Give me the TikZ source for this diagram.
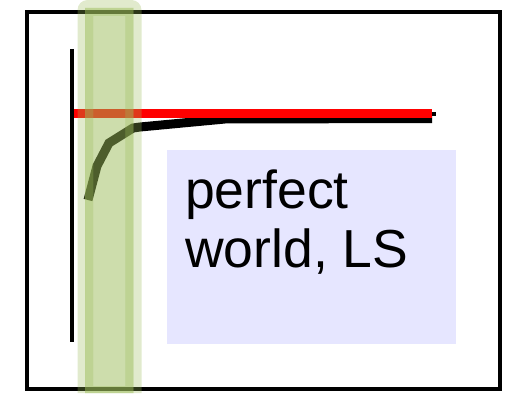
\documentclass[tikz,border=0pt]{standalone}
\usepackage{fontspec}
\newfontfamily\lblfont{Liberation Sans}
\definecolor{olivegr}{RGB}{155,187,89}
\definecolor{lav}{RGB}{230,230,255}
\begin{document}
\begin{tikzpicture}[x=1pt,y=-1pt,
  txt/.style={anchor=base west, inner sep=0pt, font=\lblfont\fontsize{53.5}{60}\selectfont},
  blk/.style={line width=4pt},
  thick9/.style={line width=9pt}]
\useasboundingbox (0,0) rectangle (505,393);
% frame
\draw[blk] (27,12) rectangle (500,389);
% label box
\fill[lav] (167,150) rectangle (456,344);
\node[txt] (l1) at (185,208) {perfect};
\node[txt] (l2) at (185,267) {world, LS};
% axis
\draw[blk] (72,49) -- (72,342);
\draw[blk] (74,114) -- (436,114);
% curve
\draw[thick9] (88,200) -- (97,166) -- (109,143) -- (133,128) -- (140,127) -- (225,119) -- (432,118.5);
% red line
\draw[red, thick9] (74,113.5) -- (432,113.5);
% green highlight
\fill[olivegr, fill opacity=0.3, even odd rule]
  [rounded corners=10pt] (77.5,393) -- (77.5,0) -- (141.5,0) [sharp corners] -- (141.5,393) -- cycle
  (85,8) rectangle (133.5,393);
\fill[olivegr, fill opacity=0.65, even odd rule]
  (85,8) rectangle (133.5,393)
  (93,16) rectangle (125.5,386);
\fill[olivegr, fill opacity=0.5] (93,16) rectangle (125.5,386);
\end{tikzpicture}
\end{document}
